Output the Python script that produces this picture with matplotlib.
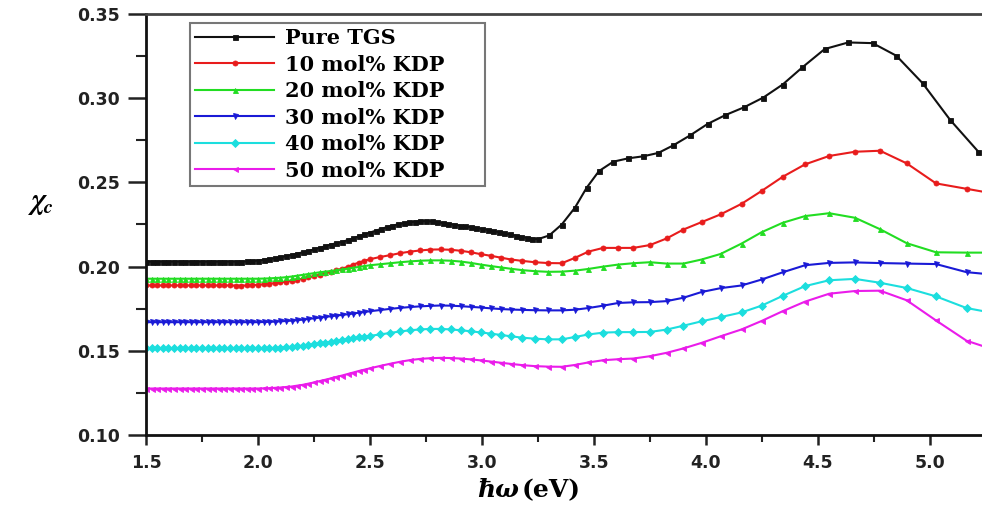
import matplotlib
matplotlib.use('Agg')
import matplotlib.pyplot as plt
from matplotlib.ticker import MultipleLocator

# photon energy grid of the pure TGS curve (eV)
x_tgs = [1.500, 1.525, 1.550, 1.575, 1.600, 1.625, 1.650, 1.675, 1.700, 1.725,
         1.750, 1.775, 1.800, 1.825, 1.850, 1.875, 1.900, 1.925, 1.950, 1.975,
         2.000, 2.025, 2.050, 2.075, 2.100, 2.125, 2.150, 2.175, 2.200, 2.225,
         2.250, 2.275, 2.300, 2.325, 2.350, 2.375, 2.400, 2.425, 2.450, 2.475,
         2.500, 2.525, 2.550, 2.575, 2.600, 2.625, 2.650, 2.675, 2.700, 2.725,
         2.750, 2.775, 2.800, 2.825, 2.850, 2.875, 2.900, 2.925, 2.950, 2.975,
         3.000, 3.025, 3.050, 3.075, 3.100, 3.125, 3.150, 3.175, 3.200, 3.225,
         3.250,
         3.300, 3.356, 3.415, 3.467, 3.522, 3.586, 3.653, 3.720, 3.787, 3.854,
         3.930, 4.007, 4.087, 4.170, 4.256, 4.342, 4.430, 4.530, 4.635, 4.744,
         4.850, 4.967, 5.090, 5.216]

y_tgs = [0.2030, 0.2030, 0.2030, 0.2030, 0.2030, 0.2030, 0.2030, 0.2030, 0.2030, 0.2030,
         0.2030, 0.2030, 0.2030, 0.2030, 0.2030, 0.2030, 0.2030, 0.2030, 0.2031, 0.2033,
         0.2036, 0.2040, 0.2045, 0.2050, 0.2056, 0.2062, 0.2069, 0.2077, 0.2085, 0.2093,
         0.2102, 0.2111, 0.2121, 0.2131, 0.2139, 0.2146, 0.2157, 0.2168, 0.2180, 0.2191,
         0.2202, 0.2213, 0.2224, 0.2234, 0.2243, 0.2251, 0.2258, 0.2263, 0.2267, 0.2269,
         0.2270, 0.2268, 0.2264, 0.2259, 0.2254, 0.2249, 0.2244, 0.2239, 0.2234, 0.2229,
         0.2224, 0.2219, 0.2212, 0.2205, 0.2198, 0.2191, 0.2184, 0.2177, 0.2171, 0.2166,
         0.2163,
         0.2185, 0.2250, 0.2350, 0.2468, 0.2567, 0.2623, 0.2643, 0.2655, 0.2675, 0.2720,
         0.2780, 0.2847, 0.2900, 0.2946, 0.3004, 0.3081, 0.3183, 0.3292, 0.3331, 0.3327,
         0.3252, 0.3089, 0.2871, 0.2682]

# photon energy grid of the doped samples (eV)
x_kdp = [1.500, 1.525, 1.550, 1.575, 1.600, 1.625, 1.650, 1.675, 1.700, 1.725,
         1.750, 1.775, 1.800, 1.825, 1.850, 1.875, 1.900, 1.925, 1.950, 1.975,
         2.000, 2.025, 2.050, 2.075, 2.100, 2.125, 2.150, 2.175, 2.200, 2.225,
         2.250, 2.275, 2.300, 2.325, 2.350, 2.375, 2.400, 2.425, 2.450, 2.475,
         2.500,
         2.545, 2.590, 2.635, 2.680, 2.725, 2.770, 2.815, 2.860, 2.905, 2.950,
         2.995, 3.040, 3.085, 3.130, 3.180, 3.235, 3.295,
         3.356, 3.415, 3.475, 3.541, 3.608, 3.675, 3.750, 3.824, 3.899, 3.980,
         4.065, 4.159, 4.248, 4.342, 4.442, 4.550, 4.665, 4.777, 4.896, 5.027,
         5.163, 5.300]

y_10 = [0.1888, 0.1888, 0.1888, 0.1888, 0.1888, 0.1888, 0.1888, 0.1888, 0.1888, 0.1888,
        0.1888, 0.1888, 0.1888, 0.1888, 0.1888, 0.1888, 0.1887, 0.1887, 0.1888, 0.1890,
        0.1892, 0.1895, 0.1898, 0.1902, 0.1906, 0.1911, 0.1916, 0.1922, 0.1929, 0.1936,
        0.1944, 0.1952, 0.1960, 0.1969, 0.1978, 0.1988, 0.1998, 0.2012, 0.2024, 0.2035,
        0.2044,
        0.2057, 0.2068, 0.2080, 0.2089, 0.2096, 0.2101, 0.2102, 0.2100, 0.2094, 0.2085,
        0.2074, 0.2064, 0.2053, 0.2042, 0.2034, 0.2026, 0.2021,
        0.2020, 0.2052, 0.2089, 0.2111, 0.2111, 0.2111, 0.2128, 0.2167, 0.2220, 0.2264,
        0.2310, 0.2373, 0.2449, 0.2533, 0.2607, 0.2657, 0.2682, 0.2688, 0.2613, 0.2494,
        0.2462, 0.2430]

y_20 = [0.1928, 0.1928, 0.1928, 0.1928, 0.1928, 0.1928, 0.1928, 0.1928, 0.1928, 0.1928,
        0.1928, 0.1928, 0.1928, 0.1928, 0.1928, 0.1928, 0.1928, 0.1928, 0.1928, 0.1928,
        0.1928, 0.1929, 0.1930, 0.1932, 0.1934, 0.1937, 0.1941, 0.1946, 0.1951, 0.1956,
        0.1961, 0.1966, 0.1970, 0.1974, 0.1978, 0.1983, 0.1988, 0.1993, 0.1998, 0.2003,
        0.2008,
        0.2014, 0.2020, 0.2026, 0.2031, 0.2035, 0.2037, 0.2037, 0.2035, 0.2030, 0.2022,
        0.2012, 0.2003, 0.1995, 0.1987, 0.1979, 0.1973, 0.1969,
        0.1970, 0.1976, 0.1986, 0.2000, 0.2012, 0.2020, 0.2026, 0.2018, 0.2018, 0.2042,
        0.2075, 0.2137, 0.2204, 0.2260, 0.2300, 0.2317, 0.2290, 0.2222, 0.2139, 0.2085,
        0.2083, 0.2083]

y_30 = [0.1670, 0.1670, 0.1670, 0.1670, 0.1670, 0.1670, 0.1670, 0.1670, 0.1670, 0.1670,
        0.1670, 0.1670, 0.1670, 0.1670, 0.1670, 0.1670, 0.1670, 0.1670, 0.1670, 0.1670,
        0.1670, 0.1671, 0.1672, 0.1673, 0.1675, 0.1677, 0.1679, 0.1682, 0.1685, 0.1689,
        0.1693, 0.1697, 0.1701, 0.1705, 0.1709, 0.1713, 0.1717, 0.1721, 0.1726, 0.1730,
        0.1735,
        0.1742, 0.1749, 0.1755, 0.1760, 0.1764, 0.1767, 0.1769, 0.1768, 0.1765, 0.1761,
        0.1757, 0.1752, 0.1748, 0.1745, 0.1743, 0.1741, 0.1740,
        0.1740, 0.1744, 0.1754, 0.1768, 0.1784, 0.1788, 0.1789, 0.1795, 0.1815, 0.1849,
        0.1872, 0.1888, 0.1923, 0.1966, 0.2008, 0.2022, 0.2025, 0.2021, 0.2018, 0.2015,
        0.1967, 0.1950]

y_40 = [0.1514, 0.1514, 0.1514, 0.1514, 0.1514, 0.1514, 0.1514, 0.1514, 0.1514, 0.1514,
        0.1514, 0.1514, 0.1514, 0.1514, 0.1514, 0.1514, 0.1514, 0.1514, 0.1514, 0.1514,
        0.1514, 0.1514, 0.1515, 0.1516, 0.1518, 0.1521, 0.1524, 0.1527, 0.1530, 0.1534,
        0.1539, 0.1544, 0.1549, 0.1554, 0.1559, 0.1564, 0.1569, 0.1574, 0.1579, 0.1584,
        0.1589,
        0.1597, 0.1606, 0.1615, 0.1622, 0.1627, 0.1630, 0.1630, 0.1627, 0.1622, 0.1616,
        0.1609, 0.1602, 0.1594, 0.1586, 0.1578, 0.1572, 0.1568,
        0.1568, 0.1582, 0.1597, 0.1608, 0.1611, 0.1611, 0.1612, 0.1626, 0.1649, 0.1675,
        0.1700, 0.1728, 0.1768, 0.1826, 0.1884, 0.1919, 0.1927, 0.1904, 0.1873, 0.1823,
        0.1754, 0.1720]

y_50 = [0.1276, 0.1276, 0.1276, 0.1276, 0.1276, 0.1276, 0.1276, 0.1276, 0.1276, 0.1276,
        0.1276, 0.1276, 0.1276, 0.1276, 0.1276, 0.1276, 0.1276, 0.1276, 0.1276, 0.1276,
        0.1276, 0.1277, 0.1278, 0.1280, 0.1282, 0.1285, 0.1288, 0.1293, 0.1298, 0.1305,
        0.1312, 0.1320, 0.1328, 0.1336, 0.1345, 0.1353, 0.1362, 0.1371, 0.1380, 0.1388,
        0.1396,
        0.1410, 0.1423, 0.1435, 0.1445, 0.1452, 0.1456, 0.1458, 0.1457, 0.1454, 0.1449,
        0.1443, 0.1436, 0.1429, 0.1422, 0.1415, 0.1409, 0.1406,
        0.1405, 0.1416, 0.1431, 0.1444, 0.1450, 0.1454, 0.1468, 0.1488, 0.1514, 0.1547,
        0.1586, 0.1627, 0.1677, 0.1735, 0.1792, 0.1839, 0.1855, 0.1857, 0.1800, 0.1680,
        0.1560, 0.1500]

labels = ['Pure TGS', '10 mol% KDP', '20 mol% KDP', '30 mol% KDP',
          '40 mol% KDP', '50 mol% KDP']
colors = ['#111111', '#e81c1c', '#22dd22', '#1a1ad6', '#1cdede', '#ea1cea']
markers = ['s', 'o', '^', 'v', 'D', '<']

plt.rcParams['font.family'] = ['DejaVu Sans']
plt.rcParams['font.weight'] = 'bold'
plt.rcParams['mathtext.fontset'] = 'stix'

fig = plt.figure(figsize=(9.82, 5.05), dpi=100)
ax = fig.add_axes([146/982, 70/505, 836/982, 421/505])

xs = [x_tgs, x_kdp, x_kdp, x_kdp, x_kdp, x_kdp]
ys = [y_tgs, y_10, y_20, y_30, y_40, y_50]
for x, y, lab, c, m in zip(xs, ys, labels, colors, markers):
    ax.plot(x, y, color=c, lw=1.5, marker=m, ms=3.6, mec=c, mew=0.6, label=lab)

ax.set_xlim(1.5, 1.5 + 836/224)
ax.set_ylim(0.10, 0.35)
ax.xaxis.set_major_locator(MultipleLocator(0.5))
ax.xaxis.set_minor_locator(MultipleLocator(0.25))
ax.yaxis.set_major_locator(MultipleLocator(0.05))
ax.yaxis.set_minor_locator(MultipleLocator(0.025))
ax.xaxis.set_major_formatter(plt.FuncFormatter(lambda v, p: f'{v:.1f}'))
ax.yaxis.set_major_formatter(plt.FuncFormatter(lambda v, p: f'{v:.2f}'))
ax.tick_params(which='major', direction='out', width=1.8,
               labelsize=12.5, colors='#222222')
ax.tick_params(axis='y', which='major', length=13, pad=6)
ax.tick_params(axis='x', which='major', length=7, pad=7)
ax.tick_params(axis='y', which='minor', direction='out', length=7, width=1.5, colors='#222222')
ax.tick_params(axis='x', which='minor', direction='out', length=5, width=1.5, colors='#222222')

for side in ['left', 'bottom']:
    ax.spines[side].set_linewidth(2)
    ax.spines[side].set_color('#111111')
ax.spines['top'].set_linewidth(2)
ax.spines['top'].set_color('#444444')
ax.spines['right'].set_visible(False)

# legend box stretched to the width it has in the original figure
leg = ax.legend(loc='upper left',
                bbox_to_anchor=(190/982, 1 - 182/505, 295/982, 159/505),
                bbox_transform=fig.transFigure, mode='expand', numpoints=1,
                prop={'family': 'DejaVu Serif', 'weight': 'bold', 'size': 15},
                frameon=True, fancybox=False, edgecolor='#777777', framealpha=1,
                handlelength=3.8, handletextpad=0.5, labelspacing=0.31,
                borderpad=0.25, borderaxespad=0)
leg.get_frame().set_linewidth(1.5)

fig.text(28/982, 1 - 203/505, r'$\chi_{c}$', fontsize=21, va='center', ha='left')
fig.text(477/982, 1 - 490/505, 'ħω', family='DejaVu Serif', style='italic',
         weight='bold', fontsize=18, va='center', ha='left')
fig.text(522/982, 1 - 490/505, '(eV)', family='DejaVu Serif',
         weight='bold', fontsize=18, va='center', ha='left')

fig.savefig('out.png', dpi=100)
